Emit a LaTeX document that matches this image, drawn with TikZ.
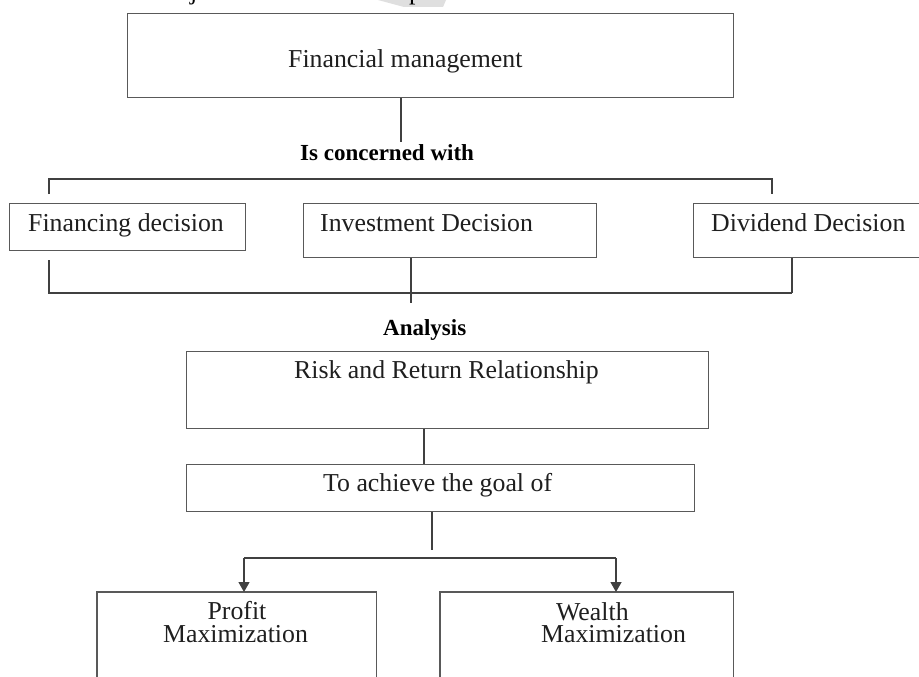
\documentclass[tikz,border=0pt]{standalone}
\usepackage{fontspec}
\setmainfont{Liberation Serif}
\usetikzlibrary{arrows.meta}
\begin{document}
\begin{tikzpicture}[x=1pt,y=-1pt,
  box/.style={draw=black!65, line width=1.4pt, rectangle, inner sep=0pt, anchor=north west},
  openbox/.style={draw=none, rectangle, inner sep=0pt, anchor=north west},
  conn/.style={draw=black!75, line width=1.3pt},
  arr/.style={conn, -{Triangle[width=11pt,length=10pt]}},
  lbl/.style={anchor=base west, inner sep=0pt, text=black!88, font=\fontsize{25.8}{28}\selectfont},
  blbl/.style={anchor=base west, inner sep=0pt, text=black, font=\fontsize{23}{26}\selectfont\bfseries}]
\useasboundingbox (0,0) rectangle (919,677);
\fill[white] (0,0) rectangle (919,677);
% cut-off fragments at the top edge
\fill[gray!25] (378,0) -- (446,0) -- (443,7) -- (404,7) -- cycle;
\node[lbl, text=black] (fragj) at (190,-0.5) {j};
\node[lbl, text=black] (fragp) at (409,-0.5) {p};
% boxes
\node[box, minimum width=606pt, minimum height=84pt] (fm) at (127,13) {};
\node[box, minimum width=236pt, minimum height=47pt] (fd) at (9,203) {};
\node[box, minimum width=293pt, minimum height=54pt] (id) at (303,203) {};
\node[box, minimum width=240pt, minimum height=54pt] (dd) at (693,203) {};
\node[box, minimum width=522pt, minimum height=77pt] (rr) at (186,351) {};
\node[box, minimum width=508pt, minimum height=47pt] (ta) at (186,464) {};
\node[openbox, minimum width=279pt, minimum height=100pt] (pm) at (97,592) {};
\node[openbox, minimum width=293pt, minimum height=100pt] (wm) at (440,592) {};
\draw[draw=black!65, line width=1.4pt] (pm.south west) -- (pm.north west) -- (pm.north east) -- (pm.south east);
\draw[draw=black!65, line width=1.4pt] (wm.south west) -- (wm.north west) -- (wm.north east) -- (wm.south east);
% texts
\node[lbl] (tfm) at (288,67) {Financial management};
\node[blbl] (tic) at (300,160) {Is concerned with};
\node[lbl] (tfd) at (28,231) {Financing decision};
\node[lbl] (tid) at (320,231) {Investment Decision};
\node[lbl] (tdd) at (711,231) {Dividend Decision};
\node[blbl] (tan) at (383,335) {Analysis};
\node[lbl] (trr) at (294,378) {Risk and Return Relationship};
\node[lbl] (tta) at (323,491) {To achieve the goal of};
\node[lbl, anchor=base] (tp1) at (237,619) {Profit};
\node[lbl] (tp2) at (163,642) {Maximization};
\node[lbl] (tw1) at (556,620) {Wealth};
\node[lbl] (tw2) at (541,642) {Maximization};
% junction coordinates
\coordinate (c1) at (401,142);
\coordinate (tb) at (0,179);
\coordinate (b1l) at (49,194);
\coordinate (b1r) at (772,194);
\coordinate (b2l) at (49,260);
\coordinate (bb) at (0,293);
\coordinate (b2r) at (792,293);
\coordinate (c2) at (411,303);
\coordinate (c3) at (424,0);
\coordinate (c4) at (432,550);
\coordinate (hl) at (244,558);
\coordinate (hr) at (616,558);
% connectors
\draw[conn] (c1 |- fm.south) -- (c1);
\draw[conn] (b1l) -- (b1l |- tb) -- (b1r |- tb) -- (b1r);
\draw[conn] (b2l) -- (b2l |- bb) -- (b2r);
\draw[conn] (b2r |- dd.south) -- (b2r);
\draw[conn] (c2 |- id.south) -- (c2);
\draw[conn] (c3 |- rr.south) -- (c3 |- ta.north);
\draw[conn] (c4 |- ta.south) -- (c4);
\draw[conn] (hl) -- (hr);
\draw[arr] (hl) -- (hl |- pm.north);
\draw[arr] (hr) -- (hr |- wm.north);
\end{tikzpicture}
\end{document}
